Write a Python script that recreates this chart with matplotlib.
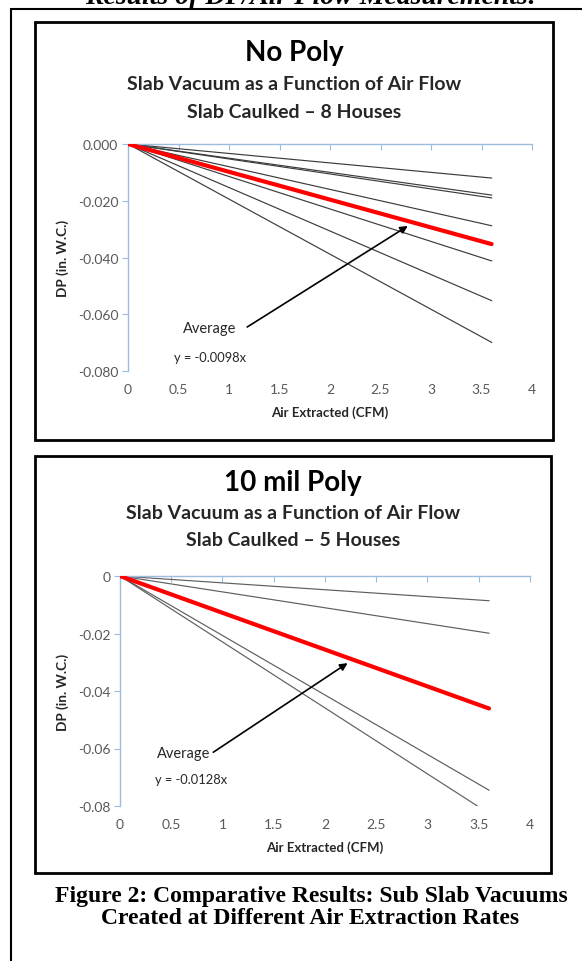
#!/usr/bin/env python3
# -*- coding: utf-8 -*-

import matplotlib
matplotlib.use('Agg')
import matplotlib.pyplot as plt
from matplotlib.patches import Rectangle

W, H = 582, 962

# --- data ----------------------------------------------------------------
x_end = 3.6                                   # last air flow point (CFM)

# DP (in. W.C.) at x_end, one per house
no_poly_houses   = [-0.0120, -0.0180, -0.0190, -0.0288, -0.0412, -0.0552, -0.0699]
no_poly_slope    = -0.0098

poly10_houses    = [-0.0086, -0.0199, -0.0460, -0.0745, -0.0826]
poly10_slope     = -0.0128

no_poly_yticks   = [0.0, -0.02, -0.04, -0.06, -0.08]
no_poly_ylabels  = ['0.000', '-0.020', '-0.040', '-0.060', '-0.080']
poly10_yticks    = [0.0, -0.02, -0.04, -0.06, -0.08]
poly10_ylabels   = ['0', '-0.02', '-0.04', '-0.06', '-0.08']
xticks           = [0, 0.5, 1, 1.5, 2, 2.5, 3, 3.5, 4]
xlabels          = ['0', '0.5', '1', '1.5', '2', '2.5', '3', '3.5', '4']

SANS  = ['Lato', 'DejaVu Sans']
SERIF = ['Liberation Serif', 'DejaVu Serif']
AXIS_BLUE = '#9DBBDC'
TICK_GREY = '#595959'
INK = '#262626'


def fx(px):
    return px / W


def fy(py):
    return 1 - py / H


def ftext(fig, x, y, s, **kw):
    fig.text(fx(x), fy(y), s, ha=kw.pop('ha', 'center'), va=kw.pop('va', 'center'), **kw)


def frame(fig, x0, y0, x1, y1, lw=2):
    fig.patches.append(Rectangle((fx(x0), fy(y1)), fx(x1) - fx(x0), fy(y0) - fy(y1),
                                 transform=fig.transFigure, fill=False,
                                 edgecolor='black', linewidth=lw, zorder=5))


def chart(fig, box, houses, slope, yticks, ylabels, avg_txt, eq_txt, arrow, grey):
    left, top, right, bottom = box
    ax = fig.add_axes([fx(left), fy(bottom), fx(right) - fx(left), fy(top) - fy(bottom)])
    ax.set_xlim(0, 4)
    ax.set_ylim(-0.08, 0)
    ax.patch.set_alpha(0)

    for end in houses:
        ax.plot([0, x_end], [0, end], color=grey, lw=0.85, zorder=2)
    ax.plot([0, x_end], [0, slope * x_end], color='#ff0000', lw=3.0,
            solid_capstyle='round', zorder=3)

    for side in ('right', 'bottom'):
        ax.spines[side].set_visible(False)
    for side in ('left', 'top'):
        ax.spines[side].set_color(AXIS_BLUE)
        ax.spines[side].set_linewidth(1.0)

    ax.set_xticks(xticks)
    ax.set_xticklabels(xlabels)
    ax.set_yticks(yticks)
    ax.set_yticklabels(ylabels)
    ax.tick_params(axis='x', bottom=False, top=True, labelbottom=True, labeltop=False,
                   direction='in', length=4, color=AXIS_BLUE, pad=9,
                   labelsize=10, labelcolor=TICK_GREY)
    ax.tick_params(axis='y', direction='out', length=4, color=AXIS_BLUE, pad=3,
                   labelsize=10, labelcolor=TICK_GREY)
    for lab in ax.get_xticklabels() + ax.get_yticklabels():
        lab.set_family(SANS)

    (tx, ty), (hx, hy) = arrow
    ax.annotate('', xy=(hx, hy), xytext=(tx, ty),
                arrowprops=dict(arrowstyle='-|>', color='black', lw=1.2,
                                mutation_scale=11, shrinkA=0, shrinkB=0))
    ax.text(avg_txt[0], avg_txt[1], 'Average', family=SANS, fontsize=10.5,
            color=INK, ha='left', va='center')
    ax.text(eq_txt[0], eq_txt[1], eq_txt[2], family=SANS, fontsize=9.3,
            color=INK, ha='left', va='center')
    return ax


def titles(fig, cx, ys, head, sub1, sub2):
    ftext(fig, cx, ys[0], head, family=SANS, fontsize=20, weight='bold')
    ftext(fig, cx, ys[1], sub1, family=SANS, fontsize=14, weight='bold', color=INK)
    ftext(fig, cx, ys[2], sub2, family=SANS, fontsize=14, weight='bold', color=INK)


def main():
    fig = plt.figure(figsize=(W / 100, H / 100), dpi=100)

    # outer page frame and clipped heading
    frame(fig, 11, 10, 600, 990, lw=1.5)
    ftext(fig, 311, 4, 'Results of DP/Air Flow Measurements:', family=SERIF,
          fontsize=20, weight='bold', style='italic', va='baseline')

    # --- top chart: no poly
    frame(fig, 35, 23, 553, 441)
    titles(fig, 294, (53, 85, 112), 'No Poly',
           'Slab Vacuum as a Function of Air Flow', 'Slab Caulked \u2013 8 Houses')
    chart(fig, (128, 145, 532, 372), no_poly_houses, no_poly_slope,
          no_poly_yticks, no_poly_ylabels,
          (0.54, -0.0648), (0.46, -0.0752, 'y = -0.0098x'),
          ((1.18, -0.0645), (2.77, -0.0289)), '#3c3c3c')
    ftext(fig, 63, 258, 'DP (in. W.C.)', family=SANS, fontsize=9.8,
          weight='bold', rotation=90, color=INK)
    ftext(fig, 330, 413, 'Air Extracted (CFM)', family=SANS, fontsize=9.5,
          weight='bold', color=INK)

    # --- bottom chart: 10 mil poly
    frame(fig, 35, 457, 551, 874)
    titles(fig, 293, (483, 514, 540), '10 mil Poly',
           'Slab Vacuum as a Function of Air Flow', 'Slab Caulked \u2013 5 Houses')
    chart(fig, (120, 577, 530, 807), poly10_houses, poly10_slope,
          poly10_yticks, poly10_ylabels,
          (0.36, -0.0616), (0.34, -0.0706, 'y = -0.0128x'),
          ((0.91, -0.0613), (2.22, -0.0303)), '#5e5e5e')
    ftext(fig, 63, 692, 'DP (in. W.C.)', family=SANS, fontsize=9.8,
          weight='bold', rotation=90, color=INK)
    ftext(fig, 325, 848, 'Air Extracted (CFM)', family=SANS, fontsize=9.5,
          weight='bold', color=INK)

    # caption
    ftext(fig, 311, 897, 'Figure 2: Comparative Results: Sub Slab Vacuums',
          family=SERIF, fontsize=17, weight='bold')
    ftext(fig, 310, 919, 'Created at Different Air Extraction Rates',
          family=SERIF, fontsize=17, weight='bold')

    fig.savefig('out.png', dpi=100)
    plt.close(fig)


if __name__ == '__main__':
    main()
